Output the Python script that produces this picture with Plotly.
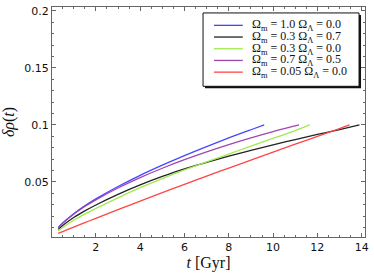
import plotly.graph_objects as go

# ---- data ----
t_blue = [0.3, 0.5, 1, 1.5, 2, 3, 4, 5, 6, 7, 8, 9, 9.6]
d_blue = [0.0099, 0.0139, 0.0221, 0.0290, 0.0351, 0.0460, 0.0558, 0.0647, 0.0731, 0.0810, 0.0886, 0.0958, 0.1000]

t_black = [0.3, 0.5, 1, 1.5, 2, 3, 4, 5, 6, 7, 8, 9, 10, 11, 12, 13, 13.9]
d_black = [0.0084, 0.0118, 0.0188, 0.0246, 0.0298, 0.0391, 0.0474, 0.0548, 0.0615, 0.0672, 0.0726, 0.0777, 0.0826, 0.0872, 0.0917, 0.0960, 0.1000]

t_green = [0.3, 0.5, 1, 1.5, 2, 3, 4, 5, 6, 7, 8, 9, 10, 11, 11.65]
d_green = [0.0070, 0.0101, 0.0164, 0.0218, 0.0267, 0.0361, 0.0450, 0.0530, 0.0605, 0.0676, 0.0745, 0.0815, 0.0882, 0.0950, 0.1000]

t_purple = [0.3, 0.5, 1, 1.5, 2, 3, 4, 5, 6, 7, 8, 9, 10, 11, 11.17]
d_purple = [0.0097, 0.0137, 0.0217, 0.0284, 0.0343, 0.0447, 0.0538, 0.0620, 0.0695, 0.0764, 0.0828, 0.0887, 0.0942, 0.0992, 0.1000]

t_red = [0.3, 0.5, 1, 1.5, 2, 3, 4, 5, 6, 7, 8, 9, 10, 11, 12, 13, 13.45]
d_red = [0.0049, 0.0065, 0.0104, 0.0143, 0.0181, 0.0257, 0.0332, 0.0406, 0.0479, 0.0551, 0.0622, 0.0692, 0.0762, 0.0831, 0.0900, 0.0968, 0.1000]

labels = [
    "Ω<sub>m</sub> = 1.0 Ω<sub>Λ</sub> = 0.0",
    "Ω<sub>m</sub> = 0.3 Ω<sub>Λ</sub> = 0.7",
    "Ω<sub>m</sub> = 0.3 Ω<sub>Λ</sub> = 0.0",
    "Ω<sub>m</sub> = 0.7 Ω<sub>Λ</sub> = 0.5",
    "Ω<sub>m</sub> = 0.05 Ω<sub>Λ</sub> = 0.0",
]
colors = ["#4646ff", "#222222", "#a2e84e", "#a046b4", "#ff4444"]
series = [(t_blue, d_blue), (t_black, d_black), (t_green, d_green),
          (t_purple, d_purple), (t_red, d_red)]

x_ticks = [2, 4, 6, 8, 10, 12, 14]
y_ticks = [0.05, 0.1, 0.15, 0.2]
y_ticktext = ["0.05", "0.1", "0.15", "0.2"]

# ---- figure ----
W, H = 374, 277
L, R, T, B = 52, 7, 5, 40
pw, ph = W - L - R, H - T - B

def px2paper(px, py):
    return (px - L) / pw, (H - B - py) / ph

fig = go.Figure()
for (tt, dd), c, lab in zip(series, colors, labels):
    fig.add_trace(go.Scatter(x=tt, y=dd, mode="lines", name=lab,
                             line=dict(color=c, width=1.3, shape="spline"),
                             showlegend=False))

axis_common = dict(showgrid=False, zeroline=False, showline=True,
                   linecolor="#666666", linewidth=1, mirror="allticks",
                   ticks="inside", ticklen=4, tickcolor="#666666",
                   tickfont=dict(family="DejaVu Sans", size=11, color="#111"))

fig.update_xaxes(range=[0.02, 14.15], tickvals=x_ticks,
                 minor=dict(dtick=0.5, tick0=0, ticklen=2, ticks="inside", tickcolor="#666666"),
                 title=dict(text="<i>t</i> [Gyr]", standoff=3,
                            font=dict(family="Liberation Serif", size=16, color="#111")),
                 **axis_common)
fig.update_yaxes(range=[0.0017, 0.2035], tickvals=y_ticks, ticktext=y_ticktext,
                 minor=dict(dtick=0.01, tick0=0, ticklen=2, ticks="inside", tickcolor="#666666"),
                 title=dict(text="<i>δρ</i>(<i>t</i>)", standoff=5,
                            font=dict(family="Liberation Serif", size=16, color="#111")),
                 **axis_common)

# ---- manual legend (box with shadow) ----
bx0, by0, bx1, by1 = 204, 11, 361, 85
sx0, sy0 = px2paper(bx0 + 2, by0 + 2)
sx1, sy1 = px2paper(bx1 + 2, by1 + 2)
fig.add_shape(type="rect", xref="paper", yref="paper", x0=sx0, y0=sy0, x1=sx1, y1=sy1,
              fillcolor="#111111", line=dict(width=0), layer="above")
x0p, y0p = px2paper(bx0, by0)
x1p, y1p = px2paper(bx1, by1)
fig.add_shape(type="rect", xref="paper", yref="paper", x0=x0p, y0=y0p, x1=x1p, y1=y1p,
              fillcolor="white", line=dict(color="#111111", width=1), layer="above")
for i, (c, lab) in enumerate(zip(colors, labels)):
    ry = 23.5 + 11.8 * i
    lx0, ly = px2paper(215, ry)
    lx1, _ = px2paper(244, ry)
    fig.add_shape(type="line", xref="paper", yref="paper", x0=lx0, y0=ly, x1=lx1, y1=ly,
                  line=dict(color=c, width=1.3), layer="above")
    tx, ty = px2paper(252, ry)
    fig.add_annotation(xref="paper", yref="paper", x=tx, y=ty, text=lab, showarrow=False,
                       xanchor="left", yanchor="middle", borderpad=0,
                       font=dict(family="Liberation Serif", size=12, color="#111"))

fig.update_layout(width=W, height=H, margin=dict(l=L, r=R, t=T, b=B),
                  paper_bgcolor="white", plot_bgcolor="white")

fig.write_html("out.html", config={"displayModeBar": False},
               post_script="document.body.style.margin='0';")
